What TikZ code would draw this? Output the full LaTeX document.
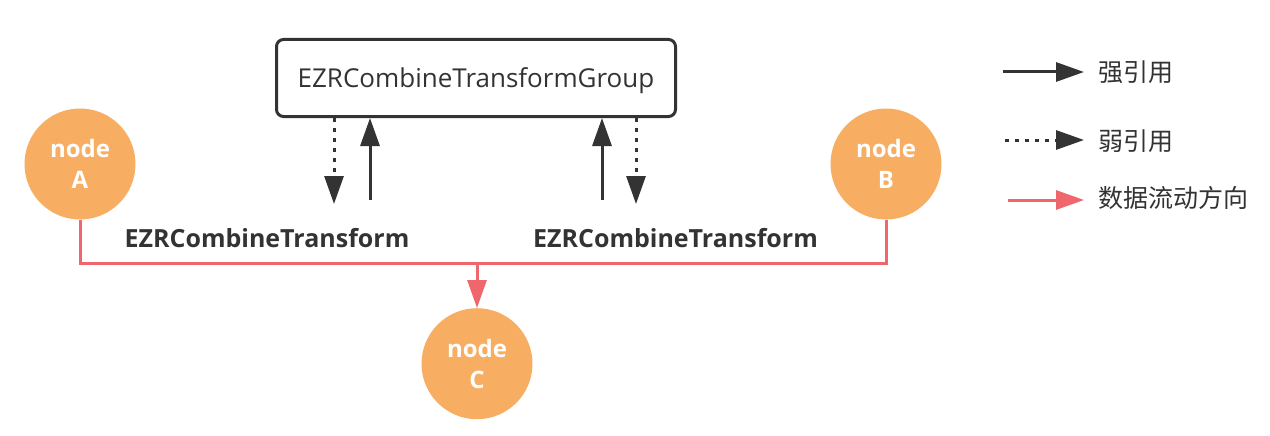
\documentclass[tikz,border=0pt]{standalone}
\usepackage{fontspec}
\setmainfont{Open Sans}
\newfontfamily\cjk{Noto Sans CJK SC}
\usepackage{tikz}
\usetikzlibrary{
  arrows.meta,
  positioning,
}
\definecolor{nodeorange}{HTML}{F7AD62}
\definecolor{flowred}{HTML}{F0666D}
\definecolor{inkgray}{HTML}{333333}
\tikzset{
  >={Triangle[length=28pt,width=19pt]},
  strong/.style={->, line width=3pt, draw=inkgray},
  weak/.style={->, line width=3pt, draw=inkgray, dash pattern=on 4pt off 6pt},
  flow/.style={line width=3pt, draw=flowred},
}

\begin{document}
\begin{tikzpicture}[x=1pt, y=-1pt,
    circ/.style={circle, fill=nodeorange, minimum size=111pt, inner sep=0pt, align=center,
      text=white, font=\bfseries\fontsize{24}{31}\selectfont},
    grpbox/.style={draw=inkgray, line width=3pt, rounded corners=7pt, minimum width=399pt,
      minimum height=77pt, text depth=0pt, text=inkgray, font=\fontsize{26}{31}\selectfont},
    lbl/.style={text=inkgray, font=\bfseries\fontsize{25}{30}\selectfont},
    legtext/.style={anchor=west, inner sep=0pt, text=inkgray, font=\cjk\fontsize{25}{30}\selectfont}]
      \useasboundingbox (0,0) rectangle (1270,436);

      \node [grpbox] (grp) at (476,78) {EZRCombineTransformGroup};
      \node [lbl] (tfl) at (267,238) {EZRCombineTransform};
      \node [lbl] (tfr) at (675.5,238) {EZRCombineTransform};

      \node [circ] (na) at (80,164) {node\\A};
      \node [circ] (nb) at (886,164) {node\\B};
      \coordinate (bus) at (477,263);
      \node [circ, below=45pt of bus] (nc) {node\\C};

      % references between group and transforms
      \coordinate (dl) at (334,204);
      \coordinate (sl) at (370,200);
      \coordinate (sr) at (602,200);
      \coordinate (dr) at (636,204);
      \draw [weak] (grp.south -| dl) -- (dl);
      \draw [strong] (sl) -- (grp.south -| sl);
      \draw [strong] (sr) -- (grp.south -| sr);
      \draw [weak] (grp.south -| dr) -- (dr);

      % data flow
      \draw [flow] (na.south) |- (bus) -| (nb.south);
      \draw [flow, ->] (bus) -- (nc);

      % legend
      \node [legtext] (lgs) at (1098,72) {强引用};
      \node [legtext] (lgw) at (1098,141) {弱引用};
      \node [legtext] (lgf) at (1098,198) {数据流动方向};
      \coordinate (ls) at (1003,72);
      \coordinate (lw) at (1005,140);
      \coordinate (lf) at (1008,200);
      \draw [strong, shorten >=14pt] (ls) -- (lgs.west |- ls);
      \draw [weak, shorten >=14pt] (lw) -- (lgw.west |- lw);
      \draw [flow, ->, shorten >=14pt] (lf) -- (lgf.west |- lf);
    \end{tikzpicture}
\end{document}
